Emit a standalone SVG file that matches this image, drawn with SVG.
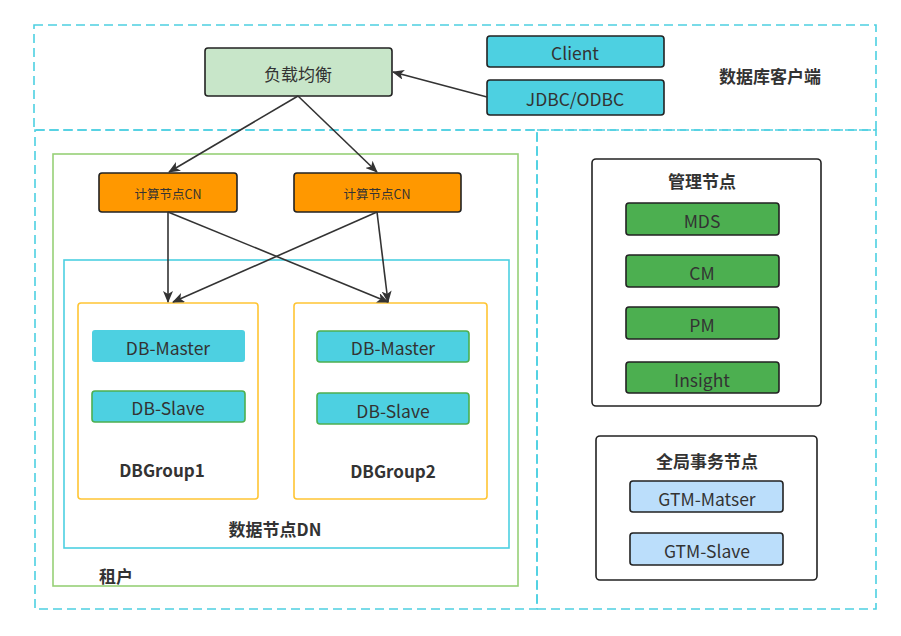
<svg xmlns="http://www.w3.org/2000/svg" width="901" height="636" viewBox="0 0 901 636">
<style>
text{font-family:"Noto Sans CJK SC","Noto Sans",sans-serif;fill:#333;text-anchor:middle;dominant-baseline:central}
.dash{fill:none;stroke:#4DD0E1;stroke-width:1.6;stroke-dasharray:9 5}
.n{stroke:#222;stroke-width:1.6}
.lbl{font-size:17.5px}
.b{font-weight:bold;font-size:17px}
.c{stroke:#333;stroke-width:1.6;fill:none;marker-end:url(#ah)}
</style>
<defs>
<marker id="ah" viewBox="0 0 12 10" refX="11" refY="5" markerWidth="12" markerHeight="10" markerUnits="userSpaceOnUse" orient="auto">
<path d="M0,0 L12,5 L0,10 L3,5 Z" fill="#333"/>
</marker>
</defs>
<rect width="901" height="636" fill="#fff"/>
<g id="regions">
<rect class="dash" x="34" y="25" width="842" height="105"/>
<rect class="dash" x="35" y="130" width="502" height="479"/>
<rect class="dash" x="537" y="130" width="339" height="479"/>
<text x="770" y="75" class="b">数据库客户端</text>
</g>
<g id="tenant">
<rect x="53" y="154" width="465" height="432" fill="none" stroke="#97D077" stroke-width="1.6"/>
<text x="116" y="575" class="b">租户</text>
</g>
<g id="dn">
<rect x="64" y="260" width="445" height="288" fill="none" stroke="#4DD0E1" stroke-width="1.6"/>
<text x="275" y="528" class="b">数据节点DN</text>
</g>
<g id="lb">
<rect class="n" x="205" y="48" width="187" height="48" rx="3" fill="#C8E6C9"/>
<text x="298" y="73" font-size="17px">负载均衡</text>
</g>
<g id="client">
<rect class="n" x="487" y="36" width="177" height="31" rx="3" fill="#4DD0E1"/>
<text x="575" y="52" class="lbl">Client</text>
</g>
<g id="jdbc">
<rect class="n" x="487" y="80" width="177" height="35" rx="3" fill="#4DD0E1"/>
<text x="575" y="98" class="lbl">JDBC/ODBC</text>
</g>
<g id="cn1">
<rect class="n" x="99" y="173" width="138" height="39" rx="3" fill="#FF9800"/>
<text x="168" y="193" font-size="12.5">计算节点CN</text>
</g>
<g id="cn2">
<rect class="n" x="294" y="173" width="167" height="39" rx="3" fill="#FF9800"/>
<text x="377" y="193" font-size="12.5">计算节点CN</text>
</g>
<g id="dbgroup1">
<rect x="78" y="303" width="180" height="196" rx="3" fill="none" stroke="#FFC534" stroke-width="1.6"/>
<rect x="92" y="330" width="153" height="32" rx="3" fill="#4DD0E1"/>
<text x="168" y="347" class="lbl">DB-Master</text>
<rect x="92" y="391" width="153" height="31" rx="3" fill="#4DD0E1" stroke="#4CAF50" stroke-width="1.6"/>
<text x="168" y="407" class="lbl">DB-Slave</text>
<text x="162" y="469" class="b">DBGroup1</text>
</g>
<g id="dbgroup2">
<rect x="294" y="303" width="193" height="196" rx="3" fill="none" stroke="#FFC534" stroke-width="1.6"/>
<rect x="317" y="331" width="152" height="31" rx="3" fill="#4DD0E1" stroke="#4CAF50" stroke-width="1.6"/>
<text x="393" y="347" class="lbl">DB-Master</text>
<rect x="317" y="393" width="152" height="31" rx="3" fill="#4DD0E1" stroke="#4CAF50" stroke-width="1.6"/>
<text x="393" y="410" class="lbl">DB-Slave</text>
<text x="393" y="470" class="b">DBGroup2</text>
</g>
<g id="mgmt">
<rect class="n" x="592" y="159" width="229" height="247" rx="4" fill="#fff"/>
<text x="702" y="180" class="b">管理节点</text>
<rect class="n" x="626" y="203" width="153" height="32" rx="3" fill="#4CAF50"/>
<text x="702" y="220" class="lbl">MDS</text>
<rect class="n" x="626" y="255" width="153" height="32" rx="3" fill="#4CAF50"/>
<text x="702" y="272" class="lbl">CM</text>
<rect class="n" x="626" y="307" width="153" height="32" rx="3" fill="#4CAF50"/>
<text x="702" y="324" class="lbl">PM</text>
<rect class="n" x="626" y="362" width="153" height="31" rx="3" fill="#4CAF50"/>
<text x="702" y="379" class="lbl">Insight</text>
</g>
<g id="gtm">
<rect class="n" x="596" y="436" width="221" height="144" rx="4" fill="#fff"/>
<text x="707" y="460" class="b">全局事务节点</text>
<rect class="n" x="630" y="481" width="153" height="31" rx="3" fill="#BBDEFB"/>
<text x="707" y="498" class="lbl">GTM-Matser</text>
<rect class="n" x="630" y="533" width="153" height="32" rx="3" fill="#BBDEFB"/>
<text x="707" y="550" class="lbl">GTM-Slave</text>
</g>
<g id="connectors">
<line class="c" x1="487" y1="97" x2="393" y2="72"/>
<line class="c" x1="298" y1="96" x2="169" y2="172"/>
<line class="c" x1="298" y1="96" x2="377" y2="172"/>
<line class="c" x1="168" y1="212" x2="168" y2="302"/>
<line class="c" x1="168" y1="212" x2="388" y2="302"/>
<line class="c" x1="377" y1="212" x2="173" y2="302"/>
<line class="c" x1="377" y1="212" x2="388" y2="302"/>
</g>
</svg>
